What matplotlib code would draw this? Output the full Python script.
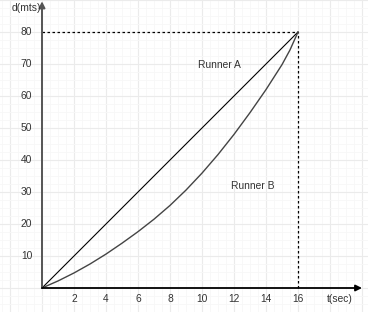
import numpy as np
from matplotlib import pyplot as plt

# distance-time data
t_a = [0, 16]
d_a = [0, 80]

t_b = [0, 1, 2, 3, 4, 5, 6, 7, 8, 9, 10, 11, 12, 13, 14, 15, 15.5, 16]
d_b = [0, 2.2, 4.7, 7.5, 10.6, 14.0, 17.6, 21.5, 25.8, 30.6, 35.9, 41.7,
       48.0, 54.8, 62.0, 69.8, 74.4, 80]

x_ticks = [2, 4, 6, 8, 10, 12, 14, 16]
y_ticks = [10, 20, 30, 40, 50, 60, 70, 80]

plt.rcParams["font.family"] = ["Liberation Sans", "DejaVu Sans"]
txt = "#333333"
fs = 7.4

fig = plt.figure(figsize=(3.68, 3.12), dpi=100)
ax = fig.add_axes([0, 0, 1, 1])
ax.set_xlim(-2.625, 20.375)
ax.set_ylim(-7.5, 90)

# faint background grid over the whole picture
ax.set_xticks(np.arange(-2, 21, 2))
ax.set_yticks(np.arange(0, 91, 10))
ax.set_xticks(np.arange(-2.5, 20.5, 0.5), minor=True)
ax.set_yticks(np.arange(-7.5, 90, 2.5), minor=True)
ax.grid(which="major", color="#ebebeb", lw=0.8)
ax.grid(which="minor", color="#f7f7f7", lw=0.6)
ax.tick_params(which="both", length=0, labelbottom=False, labelleft=False)
for s in ax.spines.values():
    s.set_visible(False)

# axes with arrow heads
ax.annotate("", xy=(0, 89.6), xytext=(0, 0),
            arrowprops=dict(arrowstyle="-|>", color="#555555", lw=1.4,
                            mutation_scale=9, shrinkA=0, shrinkB=0))
ax.annotate("", xy=(20.0, 0), xytext=(0, 0),
            arrowprops=dict(arrowstyle="-|>", color="black", lw=1.3,
                            mutation_scale=9, shrinkA=0, shrinkB=0))

# dashed guides to the meeting point
ax.plot([0, 16], [80, 80], color="black", lw=0.9, dashes=(2, 2))
ax.plot([16, 16], [0, 80], color="black", lw=0.9, dashes=(2, 2))

ax.plot(t_a, d_a, color="black", lw=0.8)
ax.plot(t_b, d_b, color="#444444", lw=1.0)

for v in x_ticks:
    ax.text(v, -3.3, str(v), ha="center", va="center", fontsize=fs, color=txt)
for v in y_ticks:
    ax.text(-0.6, v, str(v), ha="right", va="center", fontsize=fs, color=txt)

ax.text(-0.05, 87.5, "d(mts)", ha="right", va="center", fontsize=fs, color=txt)
ax.text(18.6, -3.3, "t(sec)", ha="center", va="center", fontsize=fs, color=txt)
ax.text(11.1, 69.7, "Runner A", ha="center", va="center", fontsize=fs, color=txt)
ax.text(13.15, 32.0, "Runner B", ha="center", va="center", fontsize=fs, color=txt)

fig.savefig("out.png", dpi=100)
